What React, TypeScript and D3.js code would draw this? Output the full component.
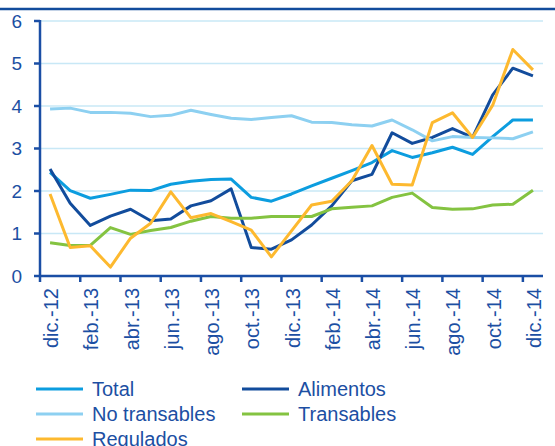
import React from 'react'
import * as d3 from 'd3'

const months = [
  'dic.-12', 'ene.-13', 'feb.-13', 'mar.-13', 'abr.-13', 'may.-13', 'jun.-13',
  'jul.-13', 'ago.-13', 'sep.-13', 'oct.-13', 'nov.-13', 'dic.-13', 'ene.-14',
  'feb.-14', 'mar.-14', 'abr.-14', 'may.-14', 'jun.-14', 'jul.-14', 'ago.-14',
  'sep.-14', 'oct.-14', 'nov.-14', 'dic.-14',
]

const total = [2.44, 2.01, 1.83, 1.92, 2.02, 2.01, 2.16, 2.23, 2.27, 2.28, 1.85, 1.76, 1.93, 2.12, 2.3, 2.48, 2.67, 2.95, 2.79, 2.9, 3.03, 2.86, 3.28, 3.67, 3.67]
const alimentos = [2.52, 1.71, 1.19, 1.41, 1.57, 1.3, 1.34, 1.65, 1.77, 2.05, 0.67, 0.63, 0.85, 1.2, 1.65, 2.24, 2.39, 3.37, 3.12, 3.26, 3.47, 3.26, 4.26, 4.89, 4.71]
const noTransables = [3.93, 3.95, 3.85, 3.85, 3.83, 3.75, 3.78, 3.9, 3.8, 3.71, 3.68, 3.73, 3.77, 3.62, 3.61, 3.56, 3.53, 3.67, 3.44, 3.18, 3.28, 3.26, 3.25, 3.23, 3.39]
const transables = [0.78, 0.72, 0.72, 1.14, 0.98, 1.07, 1.14, 1.29, 1.4, 1.36, 1.36, 1.4, 1.4, 1.4, 1.58, 1.62, 1.65, 1.85, 1.95, 1.61, 1.57, 1.58, 1.67, 1.69, 2.02]
const regulados = [1.93, 0.67, 0.71, 0.21, 0.89, 1.24, 1.98, 1.37, 1.47, 1.28, 1.08, 0.45, 1.06, 1.67, 1.76, 2.24, 3.07, 2.16, 2.14, 3.61, 3.84, 3.26, 4.02, 5.33, 4.85]

const yTicks = [0, 1, 2, 3, 4, 5, 6]

const series = [
  { name: 'Total', values: total, color: '#0c9ddf' },
  { name: 'Alimentos', values: alimentos, color: '#124c9c' },
  { name: 'No transables', values: noTransables, color: '#8dd0f1' },
  { name: 'Transables', values: transables, color: '#84c341' },
  { name: 'Regulados', values: regulados, color: '#fdb92f' },
]

const textColor = '#1c4fa3'
const axisColor = '#1a4ea5'
const gridColor = '#c8e8f6'

const left = 40
const right = 543
const top = 21
const bottom = 276

const App = () => {
  const x = d3.scalePoint<string>().domain(months).range([left, right]).padding(0.5)
  const y = d3.scaleLinear().domain([0, 6]).range([bottom, top])
  const step = x.step()

  const line = d3
    .line<number>()
    .x((_, i) => x(months[i]) as number)
    .y((d) => y(d))

  const boundaries = months
    .map((m, i) => ({ m, i }))
    .filter((d) => d.i % 2 === 0)
    .map((d) => (x(d.m) as number) - step / 2)

  const legendPos = [
    { lx: 36, ly: 389 },
    { lx: 242, ly: 389 },
    { lx: 36, ly: 414 },
    { lx: 242, ly: 414 },
    { lx: 36, ly: 439 },
  ]

  return (
    <svg
      width={555}
      height={446}
      style={{ position: 'absolute', left: 0, top: 0, fontFamily: 'Liberation Sans, Arial, sans-serif' }}
    >
      <rect width={555} height={446} fill='#fff' />
      <line x1={0} x2={555} y1={9} y2={9} stroke='#124c9c' strokeWidth={2.5} />

      {yTicks.filter((t) => t > 0).map((t) => (
        <line key={'g' + t} x1={left} x2={right} y1={y(t)} y2={y(t)} stroke={gridColor} strokeWidth={1.5} />
      ))}

      {series.map((s) => (
        <path key={s.name} d={line(s.values) ?? ''} fill='none' stroke={s.color} strokeWidth={3} strokeLinejoin='round' />
      ))}

      <line x1={left} x2={left} y1={top - 1} y2={bottom} stroke={axisColor} strokeWidth={2.5} />
      {yTicks.map((t) => (
        <g key={'y' + t}>
          <line x1={34} x2={left} y1={y(t)} y2={y(t)} stroke={axisColor} strokeWidth={2.5} />
          <text x={22} y={y(t)} dy='0.35em' textAnchor='end' fontSize={19} fill={textColor}>
            {t}
          </text>
        </g>
      ))}

      <line x1={left} x2={right} y1={bottom} y2={bottom} stroke={axisColor} strokeWidth={2.5} />
      {boundaries.map((bx, i) => (
        <line key={'t' + i} x1={bx} x2={bx} y1={bottom} y2={bottom + 6} stroke={axisColor} strokeWidth={2.5} />
      ))}
      {months.map((m, i) =>
        i % 2 === 0 ? (
          <text
            key={m}
            transform={`translate(${(x(m) as number) + 8},288) rotate(-90)`}
            textAnchor='end'
            fontSize={20}
            fill={textColor}
          >
            {m}
          </text>
        ) : null
      )}

      {series.map((s, i) => (
        <g key={'l' + s.name}>
          <line
            x1={legendPos[i].lx}
            x2={legendPos[i].lx + 47}
            y1={legendPos[i].ly}
            y2={legendPos[i].ly}
            stroke={s.color}
            strokeWidth={3}
          />
          <text x={legendPos[i].lx + 56} y={legendPos[i].ly + 7} fontSize={20} fill={textColor}>
            {s.name}
          </text>
        </g>
      ))}
    </svg>
  )
}

export default App
